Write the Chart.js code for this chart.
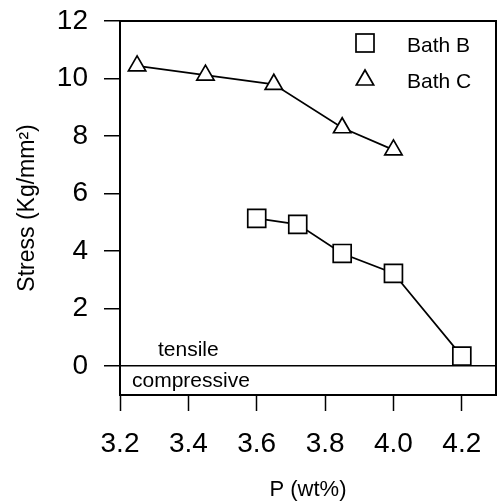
<!DOCTYPE html>
<html>
<head>
<meta charset="utf-8">
<script src="https://cdn.jsdelivr.net/npm/chart.js"></script>
<style>
body{margin:0;background:#fff}
#wrap{width:497px;height:503px}
</style>
</head>
<body>
<div id="wrap"><canvas id="stressChart"></canvas></div>
<script>

// DATA

const bathBx = [3.6, 3.72, 3.85, 4.0, 4.2]
const bathBy = [5.14, 4.93, 3.92, 3.23, 0.35]

const bathCx = [3.25, 3.45, 3.65, 3.85, 4.0]
const bathCy = [10.44, 10.12, 9.8, 8.29, 7.52]

const xTicks = [3.2, 3.4, 3.6, 3.8, 4.0, 4.2]
const yTicks = [0, 2, 4, 6, 8, 10, 12]

const legendLabels = ['Bath B', 'Bath C']

const FONT = "'Liberation Sans', Arial, Helvetica, sans-serif"


function toPoints(xs, ys){
return xs.map((x, i) => ({x: x, y: ys[i]}))
}


// frame, legend and tensile / compressive labels

const extras = {

id: 'extras',

afterDraw(chart){

const ctx = chart.ctx
const a = chart.chartArea
const xs = chart.scales.x
const ys = chart.scales.y

ctx.save()
ctx.strokeStyle = '#000'
ctx.lineWidth = 2
ctx.beginPath()
ctx.moveTo(a.left, a.top)
ctx.lineTo(a.right, a.top)
ctx.lineTo(a.right, a.bottom)
ctx.stroke()

ctx.fillStyle = '#000'
ctx.font = '21px ' + FONT
ctx.textBaseline = 'alphabetic'
ctx.textAlign = 'left'
ctx.fillText('tensile', xs.getPixelForValue(3.311), ys.getPixelForValue(0.35))
ctx.fillText('compressive', xs.getPixelForValue(3.235), ys.getPixelForValue(-0.73))

// legend
let lx = a.right - 131
ctx.lineWidth = 1.7
ctx.strokeRect(lx - 9, a.top + 22 - 9, 18, 18)

let ty = a.top + 59
ctx.beginPath()
ctx.moveTo(lx, ty - 10)
ctx.lineTo(lx + 8.66, ty + 5)
ctx.lineTo(lx - 8.66, ty + 5)
ctx.closePath()
ctx.stroke()

ctx.textBaseline = 'middle'
ctx.fillText(legendLabels[0], a.right - 89, a.top + 25)
ctx.fillText(legendLabels[1], a.right - 89, a.top + 61)

ctx.restore()

}

}


const ctx = document.getElementById('stressChart')

new Chart(ctx, {

type: 'line',

data: {

datasets: [{

label: legendLabels[0],
data: toPoints(bathBx, bathBy),
borderColor: '#000',
borderWidth: 1.7,
pointStyle: 'rect',
pointRadius: 12.7,
pointBackgroundColor: '#fff',
pointBorderColor: '#000',
pointBorderWidth: 1.7,
clip: false

},{

label: legendLabels[1],
data: toPoints(bathCx, bathCy),
borderColor: '#000',
borderWidth: 1.7,
pointStyle: 'triangle',
pointRadius: 10,
pointBackgroundColor: '#fff',
pointBorderColor: '#000',
pointBorderWidth: 1.7,
clip: false

}]

},

options: {

responsive: true,
maintainAspectRatio: false,
animation: false,

layout: {
autoPadding: false,
padding: {top: 21, right: 1, left: 0, bottom: 0}
},

plugins: {
legend: {display: false},
tooltip: {enabled: false}
},

scales: {

x: {
type: 'linear',
min: 3.2,
max: 4.3,
afterBuildTicks: s => { s.ticks = xTicks.map(v => ({value: v})) },
afterFit: s => { s.height = 108; s.paddingLeft = 0; s.paddingRight = 0 },
border: {display: true, color: '#000', width: 2},
grid: {
drawOnChartArea: false,
drawTicks: true,
tickLength: 16,
tickColor: '#000',
tickWidth: 1.5
},
ticks: {
color: '#000',
padding: 16,
maxRotation: 0,
font: {family: FONT, size: 28},
callback: v => Number(v).toFixed(1)
},
title: {
display: true,
text: 'P (wt%)',
color: '#000',
padding: {top: 0, bottom: 0},
font: {family: FONT, size: 22}
}
},

y: {
type: 'linear',
min: -1,
max: 12,
afterBuildTicks: s => { s.ticks = yTicks.map(v => ({value: v})) },
afterFit: s => { s.width = 120; s.paddingTop = 0; s.paddingBottom = 0 },
border: {display: true, color: '#000', width: 2},
grid: {
drawOnChartArea: true,
color: c => (c.tick && c.tick.value === 0) ? '#000' : 'rgba(0,0,0,0)',
lineWidth: 1.5,
drawTicks: true,
tickLength: 16,
tickColor: '#000',
tickWidth: 1.5
},
ticks: {
color: '#000',
padding: 16,
font: {family: FONT, size: 28}
},
title: {
display: true,
text: 'Stress (Kg/mm²)',
color: '#000',
padding: {top: 14, bottom: 0},
font: {family: FONT, size: 23}
}
}

}

},

plugins: [extras]

})

</script>
</body>
</html>
